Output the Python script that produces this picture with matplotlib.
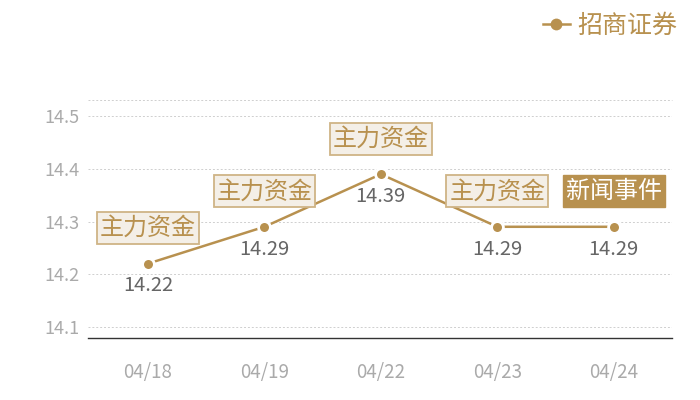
import matplotlib
matplotlib.use("Agg")
import matplotlib.pyplot as plt
from matplotlib.lines import Line2D

plt.rcParams['font.family'] = ['Noto Sans CJK SC', 'DejaVu Sans']

dates = ["04/18", "04/19", "04/22", "04/23", "04/24"]
prices = [14.22, 14.29, 14.39, 14.29, 14.29]
events = ["主力资金", "主力资金", "主力资金", "主力资金", "新闻事件"]
series_name = "招商证券"
yticks = [14.1, 14.2, 14.3, 14.4, 14.5]

GOLD = "#b8914f"

fig = plt.figure(figsize=(7, 4), dpi=100)
ax = fig.add_axes([88/700, 1-338/400, (672-88)/700, (338-100)/400])

x = list(range(len(dates)))
ax.plot(x, prices, color=GOLD, lw=1.8, marker="o", ms=8.5,
        markerfacecolor=GOLD, markeredgecolor="white", markeredgewidth=2, zorder=3,
        solid_capstyle="butt")

ax.set_xlim(-0.515, 4.5)
ax.set_ylim(14.0786, 14.531)
ax.set_yticks(yticks)
ax.set_yticklabels([f"{v:.1f}" for v in yticks])
ax.set_xticks(x)
ax.set_xticklabels(dates)
ax.tick_params(axis="both", length=0, colors="#aaaaaa")
ax.tick_params(axis="x", pad=17, labelsize=13.5)
ax.tick_params(axis="y", pad=6, labelsize=13)
for s in ["top", "right", "left"]:
    ax.spines[s].set_visible(False)
ax.spines["bottom"].set_color("#333333")
ax.spines["bottom"].set_linewidth(1.0)
ax.grid(axis="y", color="#cfcfcf", linestyle=(0, (2, 2)), lw=0.7)
ax.axhline(14.531, color="#cfcfcf", linestyle=(0, (2, 2)), lw=0.7, clip_on=False)

for xi, (p, ev) in enumerate(zip(prices, events)):
    ax.annotate(f"{p:.2f}", (xi, p), xytext=(0, -16), textcoords="offset points",
                ha="center", va="center", fontsize=14.5, color="#666666")
    if ev == "新闻事件":
        bbox = dict(boxstyle="square,pad=0.12", facecolor=GOLD, edgecolor=GOLD, lw=1)
        tc = "white"
    else:
        bbox = dict(boxstyle="square,pad=0.12", facecolor="#f4efe7", edgecolor="#cfb486", lw=1.3)
        tc = GOLD
    ax.annotate(ev, (xi, p), xytext=(0, 25.5), textcoords="offset points",
                ha="center", va="center", fontsize=17.3, color=tc, bbox=bbox, zorder=4)

h = Line2D([0], [0], color=GOLD, lw=1.8, marker="o", ms=8.5,
           markerfacecolor=GOLD, markeredgecolor=GOLD, markeredgewidth=0)
leg = fig.legend([h], [series_name], loc="upper right", bbox_to_anchor=(1.0, 1.025),
                 frameon=False, fontsize=18, handlelength=1.1, handletextpad=0.3)
for t in leg.get_texts():
    t.set_color(GOLD)

fig.savefig("out.png", dpi=100)
